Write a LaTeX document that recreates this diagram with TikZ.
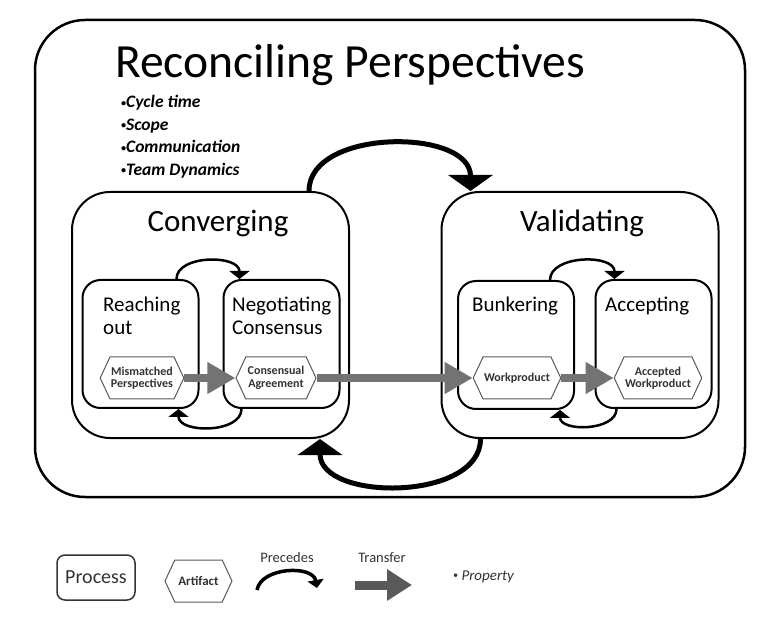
\documentclass[tikz,border=0pt]{standalone}
\usepackage{fontspec}
\setmainfont{Carlito}
\usetikzlibrary{shapes.symbols, arrows.meta}
\newcommand\smallbullet{{\fontsize{10}{10}\selectfont\raisebox{1.6pt}{•}}}
\tikzstyle{frame} = [rectangle, rounded corners=50pt, draw=black, line width=2.5pt, minimum width=710pt, minimum height=477pt]
\tikzstyle{phase} = [rectangle, rounded corners=38pt, draw=black, line width=2pt, minimum width=277pt, minimum height=246pt]
\tikzstyle{process} = [rectangle, rounded corners=18pt, draw=black, line width=2pt, minimum width=116pt, minimum height=128pt]
\tikzstyle{artifact} = [signal, signal to=west and east, signal pointer angle=130, draw=black!65, line width=1pt, fill=white, minimum width=80pt, minimum height=42pt, inner sep=1pt, align=center, text=black!80, font=\fontsize{12}{12.5}\selectfont\bfseries]
\tikzstyle{label} = [inner sep=0pt, font=\fontsize{21}{23}\selectfont]
\tikzstyle{prop} = [inner sep=0pt, anchor=base west, font=\fontsize{17.5}{20}\selectfont\bfseries\itshape]
\tikzstyle{transfer} = [line width=8pt, draw=black!55, -{Triangle[length=28pt, width=30pt]}]
\tikzstyle{precedes} = [line width=2.5pt, -{Triangle[length=8pt, width=20pt]}]
\tikzstyle{bigprecedes} = [line width=5pt, -{Triangle[length=16pt, width=44pt]}]

\begin{document}
\begin{tikzpicture}[x=1pt, y=1pt]
\useasboundingbox (0,0) rectangle (783,621);

\node (frame) [frame] at (390,362.5) {};
\node (title) [inner sep=0pt, anchor=base west, font=\fontsize{47.6}{50}\selectfont] at (115,543) {Reconciling Perspectives};
\foreach \t [count=\i] in {Cycle time, Scope, Communication, Team Dynamics}
  \node (prop\i) [prop] at (121,535.5-22.5*\i) {\smallbullet\t};

%% phases
\node (conv) [phase] at (210.5,306) {};
\node (val) [phase] at (580,306) {};
\node (convlbl) [inner sep=0pt, anchor=base, font=\fontsize{31}{33}\selectfont] at (218,389) {Converging};
\node (vallbl) [inner sep=0pt, anchor=base, font=\fontsize{31}{33}\selectfont] at (582,389) {Validating};

%% processes
\node (reach) [process] at (140.5,277) {};
\node (nego) [process] at (281.5,277) {};
\node (bunk) [process] at (516,276) {};
\node (accp) [process] at (653.5,277) {};
\node (reachlbl) [label, anchor=north west, align=left] at (103,324) {Reaching\\out};
\node (negolbl) [label, anchor=north west, align=left] at (232,324) {Negotiating\\Consensus};
\node (bunklbl) [label, anchor=base west] at (472,309) {Bunkering};
\node (accplbl) [label, anchor=base west] at (605,309) {Accepting};

%% artifacts
\node (mism) [artifact] at (142,243) {Mismatched\\Perspectives};
\node (agree) [artifact] at (276,243) {Consensual\\Agreement};
\node (work) [artifact] at (517,243) {Workproduct};
\node (accwp) [artifact] at (658,243) {Accepted\\Workproduct};

%% arrows
\draw [transfer] (mism.east) -- (agree.west);
\draw [transfer] (agree.east) -- (work.west);
\draw [transfer] (work.east) -- (accwp.west);

\draw [precedes] ([xshift=-23pt]reach.north east) to[out=90, in=90] ([xshift=17pt]nego.north west);
\draw [precedes] ([xshift=19pt]nego.south west) to[out=-90, in=-90] ([xshift=-21pt]reach.south east);
\draw [precedes] ([xshift=-25pt]bunk.north east) to[out=90, in=90] ([xshift=20pt]accp.north west);
\draw [precedes] ([xshift=22pt]accp.south west) to[out=-90, in=-90] ([xshift=-15pt]bunk.south east);

\draw [bigprecedes] ([xshift=-41pt]conv.north east) to[out=90, in=90] ([xshift=30pt]val.north west);
\draw [bigprecedes] ([xshift=40pt]val.south west) to[out=-90, in=-90] ([xshift=-30pt]conv.south east);

%% legend
\node (lgproc) [rectangle, rounded corners=8pt, draw=black!80, line width=1.5pt, minimum width=78pt, minimum height=45pt, font=\fontsize{20}{22}\selectfont, text=black!80] at (96,43.5) {Process};
\node (lgart) [artifact, minimum width=67pt, font=\fontsize{13}{14}\selectfont\bfseries] at (198.5,40) {Artifact};
\node (lgprec) [inner sep=0pt, anchor=base, text=black!80, font=\fontsize{14.5}{16}\selectfont] at (287,59) {Precedes};
\node (lgtran) [inner sep=0pt, anchor=base, text=black!80, font=\fontsize{14.5}{16}\selectfont] at (382,59) {Transfer};
\node (lgprop) [inner sep=0pt, anchor=base west, text=black!80, font=\fontsize{15}{16}\selectfont\itshape] at (453,41) {\smallbullet\ Property};
\coordinate (preca) at (257,31);
\coordinate (precb) at (317,33);
\coordinate (trana) at (355,36);
\coordinate (tranb) at (412,36);
\draw [line width=3.5pt, -{Triangle[length=8pt, width=16pt]}] (preca) to[out=80, in=100] (precb);
\draw [line width=9pt, draw=black!65, -{Triangle[length=25pt, width=30pt]}] (trana) -- (tranb);

\end{tikzpicture}
\end{document}
